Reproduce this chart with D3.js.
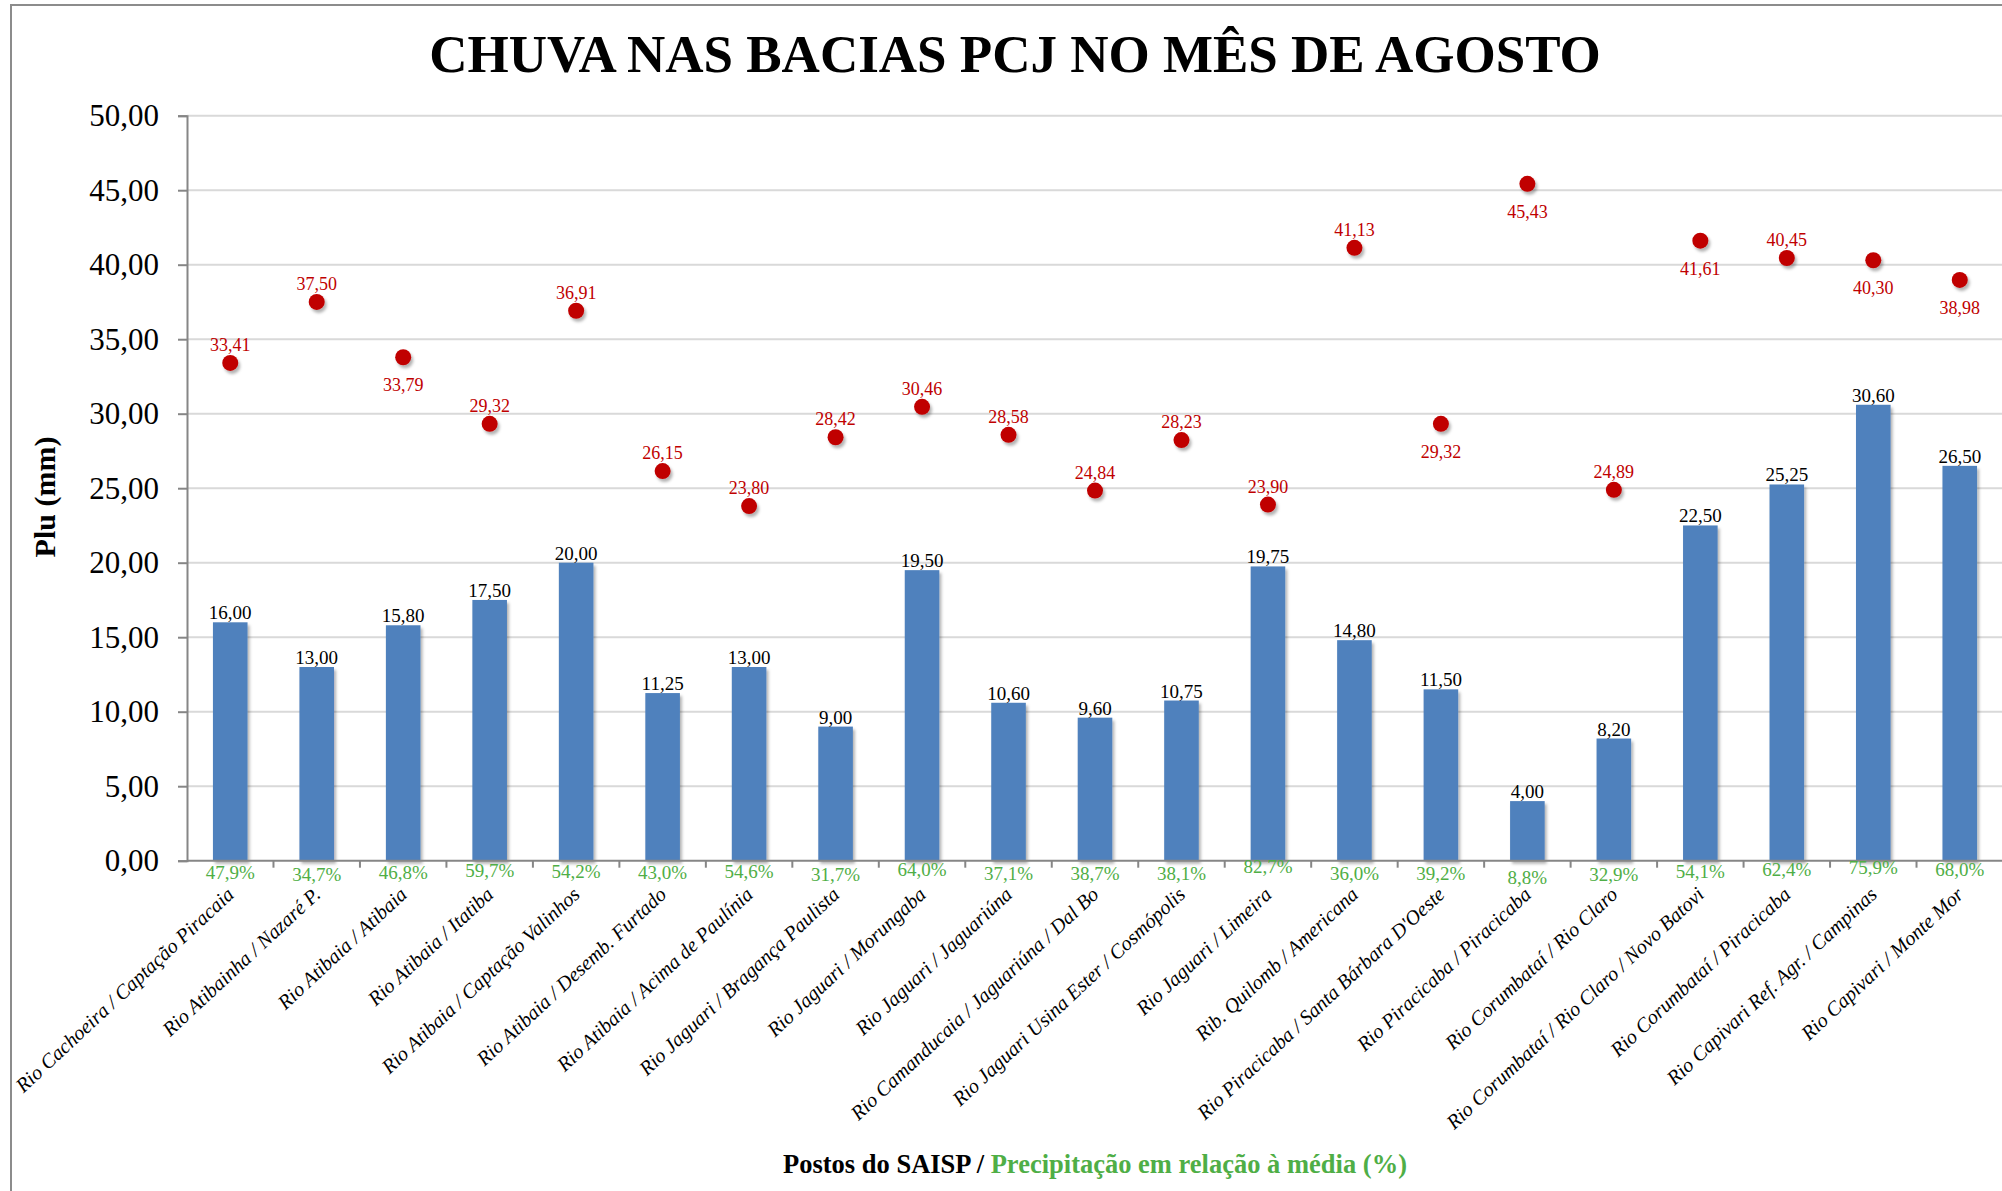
<!DOCTYPE html>
<html>
<head>
<meta charset="utf-8">
<script src="https://cdn.jsdelivr.net/npm/d3@7"></script>
<style>
  body { margin: 0; background: #fff; }
  svg { display: block; font-family: "Liberation Serif", "Times New Roman", serif; }
</style>
</head>
<body>
<div id="chart"></div>
<script>
// Postos do SAISP (categorias)
const postos = [
  "Rio Cachoeira / Captação Piracaia",
  "Rio Atibainha / Nazaré P.",
  "Rio Atibaia / Atibaia",
  "Rio Atibaia / Itatiba",
  "Rio Atibaia / Captação Valinhos",
  "Rio Atibaia / Desemb. Furtado",
  "Rio Atibaia / Acima de Paulínia",
  "Rio Jaguari / Bragança Paulista",
  "Rio Jaguari / Morungaba",
  "Rio Jaguari / Jaguariúna",
  "Rio Camanducaia / Jaguariúna / Dal Bo",
  "Rio Jaguari Usina Ester / Cosmópolis",
  "Rio Jaguari / Limeira",
  "Rib. Quilomb / Americana",
  "Rio Piracicaba / Santa Bárbara D'Oeste",
  "Rio Piracicaba / Piracicaba",
  "Rio Corumbataí / Rio Claro",
  "Rio Corumbataí / Rio Claro / Novo Batovi",
  "Rio Corumbataí / Piracicaba",
  "Rio Capivari Ref. Agr. / Campinas",
  "Rio Capivari / Monte Mor"
];

// Chuva observada no mês (mm) - barras
const chuvaObservada = [16.00, 13.00, 15.80, 17.50, 20.00, 11.25, 13.00, 9.00, 19.50, 10.60,
  9.60, 10.75, 19.75, 14.80, 11.50, 4.00, 8.20, 22.50, 25.25, 30.60, 26.50];

// Média histórica do mês (mm) - pontos vermelhos
const mediaHistorica = [33.41, 37.50, 33.79, 29.32, 36.91, 26.15, 23.80, 28.42, 30.46, 28.58,
  24.84, 28.23, 23.90, 41.13, 29.32, 45.43, 24.89, 41.61, 40.45, 40.30, 38.98];

// Precipitação em relação à média (%)
const percentualMedia = [47.9, 34.7, 46.8, 59.7, 54.2, 43.0, 54.6, 31.7, 64.0, 37.1,
  38.7, 38.1, 82.7, 36.0, 39.2, 8.8, 32.9, 54.1, 62.4, 75.9, 68.0];

// Eixo Y
const yTickValues = [0, 5, 10, 15, 20, 25, 30, 35, 40, 45, 50];

const width = 2002, height = 1191;
const plot = { left: 187, right: 2003, top: 115.7, bottom: 860.7 };

const locale = d3.formatLocale({ decimal: ",", thousands: ".", grouping: [3], currency: ["R$", ""] });
const fmt2 = locale.format(".2f");
const fmt1 = locale.format(".1f");

// Labels of the red points that sit below the marker
const mediaLabelBelow = new Set([2, 14, 15, 17, 19, 20]);

const svg = d3.select('#chart')
  .append('svg')
  .attr('width', width)
  .attr('height', height);

// Drop shadow for bars and points
const defs = svg.append('defs');
defs.append('filter')
  .attr('id', 'shadow')
  .attr('x', '-50%').attr('y', '-50%').attr('width', '200%').attr('height', '200%')
  .append('feDropShadow')
  .attr('dx', 2).attr('dy', 3)
  .attr('stdDeviation', 1.6)
  .attr('flood-color', '#000')
  .attr('flood-opacity', 0.3);

// Chart frame (left and top edges are visible)
svg.append('path')
  .attr('d', `M11,${height} L11,5 L${width},5`)
  .attr('fill', 'none')
  .attr('stroke', '#8c8c8c')
  .attr('stroke-width', 2);

const xScale = d3.scaleBand()
  .domain(postos)
  .range([plot.left, plot.right])
  .paddingInner(0.6)
  .paddingOuter(0.3);

const yScale = d3.scaleLinear()
  .domain([0, 50])
  .range([plot.bottom, plot.top]);

const step = xScale.step();

// Title
svg.append('text')
  .attr('x', 1015)
  .attr('y', 72)
  .attr('text-anchor', 'middle')
  .attr('font-size', '53px')
  .attr('font-weight', 'bold')
  .attr('fill', '#000')
  .text('CHUVA NAS BACIAS PCJ NO MÊS DE AGOSTO');

// Gridlines
svg.append('g')
  .attr('class', 'grid')
  .selectAll('line')
  .data(yTickValues.filter(d => d > 0))
  .join('line')
  .attr('x1', plot.left)
  .attr('x2', width)
  .attr('y1', d => yScale(d))
  .attr('y2', d => yScale(d))
  .attr('stroke', '#d9d9d9')
  .attr('stroke-width', 2);

// Y axis
const yAxis = svg.append('g')
  .attr('class', 'y-axis')
  .attr('transform', `translate(${plot.left}, 0)`)
  .call(d3.axisLeft(yScale).tickValues(yTickValues).tickFormat(fmt2).tickSize(9).tickPadding(19));
yAxis.select('.domain').attr('stroke', '#868686').attr('stroke-width', 2);
yAxis.selectAll('.tick line').attr('stroke', '#868686').attr('stroke-width', 2);
yAxis.selectAll('.tick text')
  .attr('font-family', '"Liberation Serif", serif')
  .attr('font-size', '31px')
  .attr('fill', '#000');

// Y axis label
svg.append('text')
  .attr('transform', 'rotate(-90)')
  .attr('x', -497)
  .attr('y', 55)
  .attr('text-anchor', 'middle')
  .attr('font-size', '30px')
  .attr('font-weight', 'bold')
  .text('Plu (mm)');

// Bars
svg.append('g')
  .selectAll('rect')
  .data(chuvaObservada)
  .join('rect')
  .attr('x', (d, i) => xScale(postos[i]))
  .attr('y', d => yScale(d))
  .attr('width', xScale.bandwidth())
  .attr('height', d => yScale(0) - yScale(d))
  .attr('fill', '#4f81bd')
  .attr('filter', 'url(#shadow)');

// X axis line and ticks between categories
const xAxis = svg.append('g').attr('class', 'x-axis');
xAxis.append('line')
  .attr('x1', plot.left)
  .attr('x2', width)
  .attr('y1', plot.bottom)
  .attr('y2', plot.bottom)
  .attr('stroke', '#868686')
  .attr('stroke-width', 2);
xAxis.selectAll('.tick')
  .data(postos.slice(1))
  .join('line')
  .attr('class', 'tick')
  .attr('x1', d => xScale(d) - step * 0.3)
  .attr('x2', d => xScale(d) - step * 0.3)
  .attr('y1', plot.bottom)
  .attr('y2', plot.bottom + 7)
  .attr('stroke', '#868686')
  .attr('stroke-width', 2);

// Bar value labels
svg.append('g')
  .selectAll('text')
  .data(chuvaObservada)
  .join('text')
  .attr('x', (d, i) => xScale(postos[i]) + xScale.bandwidth() / 2)
  .attr('y', d => yScale(d) - 3)
  .attr('text-anchor', 'middle')
  .attr('font-size', '19px')
  .attr('fill', '#000')
  .text(d => fmt2(d));

// Historical average points
svg.append('g')
  .selectAll('circle')
  .data(mediaHistorica)
  .join('circle')
  .attr('cx', (d, i) => xScale(postos[i]) + xScale.bandwidth() / 2)
  .attr('cy', d => yScale(d))
  .attr('r', 8)
  .attr('fill', '#c00000')
  .attr('filter', 'url(#shadow)');

svg.append('g')
  .selectAll('text')
  .data(mediaHistorica)
  .join('text')
  .attr('x', (d, i) => xScale(postos[i]) + xScale.bandwidth() / 2)
  .attr('y', (d, i) => yScale(d) + (mediaLabelBelow.has(i) ? 34 : -12))
  .attr('text-anchor', 'middle')
  .attr('font-size', '18px')
  .attr('fill', '#c00000')
  .text(d => fmt2(d));

// Percent labels (placed under a point at pct/100 on the mm axis, as in the original)
svg.append('g')
  .selectAll('text')
  .data(percentualMedia)
  .join('text')
  .attr('x', (d, i) => xScale(postos[i]) + xScale.bandwidth() / 2)
  .attr('y', d => yScale(d / 100) + 25)
  .attr('text-anchor', 'middle')
  .attr('font-size', '19px')
  .attr('fill', '#4fae46')
  .text(d => fmt1(d) + '%');

// Category labels
svg.append('g')
  .selectAll('text')
  .data(postos)
  .join('text')
  .attr('transform', d => `translate(${xScale(d) + xScale.bandwidth() / 2 + 5}, 896) rotate(-43)`)
  .attr('text-anchor', 'end')
  .attr('font-size', '20.3px')
  .attr('font-style', 'italic')
  .attr('fill', '#000')
  .text(d => d);

// X axis title
const xTitle = svg.append('text')
  .attr('x', (plot.left + plot.right) / 2)
  .attr('y', 1173)
  .attr('text-anchor', 'middle')
  .attr('font-size', '26.5px')
  .attr('font-weight', 'bold');
xTitle.append('tspan').attr('fill', '#000').text('Postos do SAISP / ');
xTitle.append('tspan').attr('fill', '#4fae46').text('Precipitação em relação à média (%)');
</script>
</body>
</html>
